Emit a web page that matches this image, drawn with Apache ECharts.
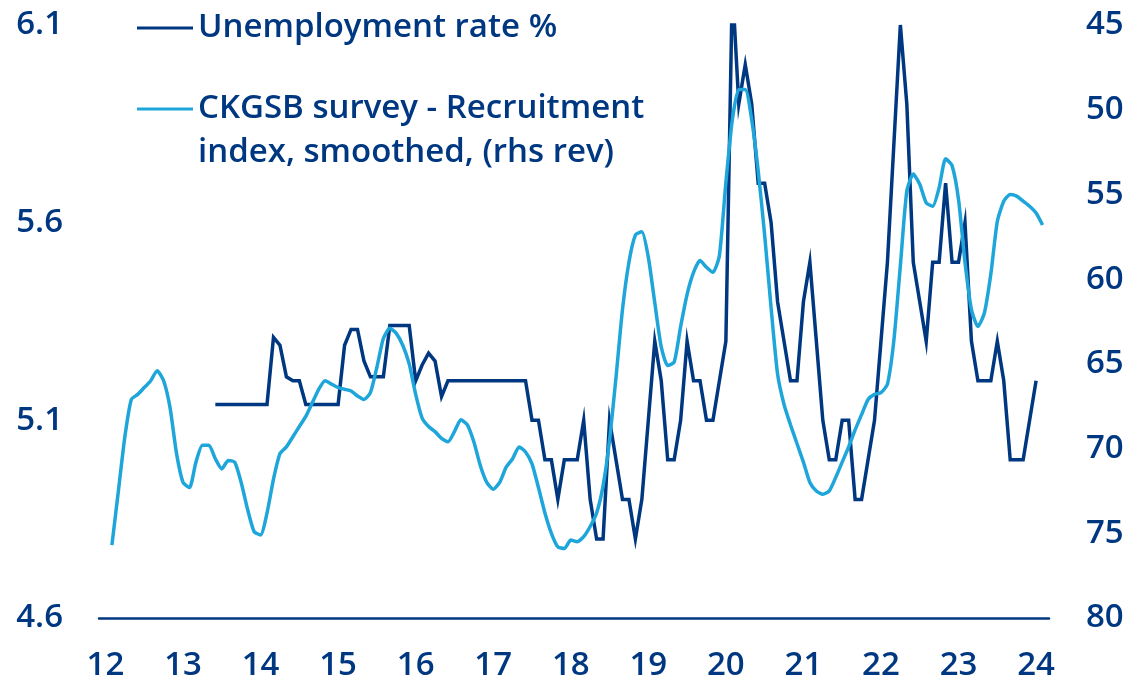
<!DOCTYPE html>
<html>
<head>
<meta charset="utf-8">
<script src="https://cdn.jsdelivr.net/npm/echarts@6/dist/echarts.min.js"></script>
<style>
  html, body { margin: 0; padding: 0; background: #fff; }
  #chart { width: 1132px; height: 682px; }
</style>
</head>
<body>
<div id="chart"></div>
<script>
// monthly categories Dec 2011 .. Mar 2024
var months = [];
for (var y = 2011; y <= 2024; y++) {
	for (var m = 1; m <= 12; m++) {
		if (y === 2011 && m < 12) continue;
		if (y === 2024 && m > 3) break;
		months.push(y + '-' + (m < 10 ? '0' + m : m));
	}
}

// Unemployment rate %, Dec 2011 first, then Jan..Dec per row
var unemployment = [null].concat(
	[null, null, null, null, null, null, null, null, null, null, null, null],
	[null, null, null, null, null, 5.14, 5.14, 5.14, 5.14, 5.14, 5.14, 5.14],
	[5.14, 5.14, 5.31, 5.29, 5.21, 5.2, 5.2, 5.14, 5.14, 5.14, 5.14, 5.14],
	[5.14, 5.29, 5.33, 5.33, 5.25, 5.21, 5.21, 5.21, 5.34, 5.34, 5.34, 5.34],
	[5.2, 5.24, 5.27, 5.25, 5.16, 5.2, 5.2, 5.2, 5.2, 5.2, 5.2, 5.2],
	[5.2, 5.2, 5.2, 5.2, 5.2, 5.2, 5.1, 5.1, 5.0, 5.0, 4.9, 5.0],
	[5.0, 5.0, 5.1, 4.9, 4.8, 4.8, 5.1, 5.0, 4.9, 4.9, 4.8, 4.9],
	[5.1, 5.3, 5.2, 5.0, 5.0, 5.1, 5.3, 5.2, 5.2, 5.1, 5.1, 5.2],
	[5.3, 6.2, 5.9, 6.0, 5.9, 5.7, 5.7, 5.6, 5.4, 5.3, 5.2, 5.2],
	[5.4, 5.5, 5.3, 5.1, 5.0, 5.0, 5.1, 5.1, 4.9, 4.9, 5.0, 5.1],
	[5.3, 5.5, 5.8, 6.1, 5.9, 5.5, 5.4, 5.3, 5.5, 5.5, 5.7, 5.5],
	[5.5, 5.6, 5.3, 5.2, 5.2, 5.2, 5.3, 5.2, 5.0, 5.0, 5.0, 5.1],
	[5.2, null, null]
);

// CKGSB recruitment index, smoothed (right axis, reversed)
var recruitment = [null].concat(
	[null, 75.7, 72.5, 69.3, 67.1, 66.8, 66.4, 66.0, 65.4, 66.0, 67.6, 70.3],
	[72.0, 72.3, 70.8, 69.8, 69.8, 70.6, 71.2, 70.7, 70.8, 72.0, 73.6, 74.9],
	[75.1, 73.8, 71.8, 70.3, 69.9, 69.3, 68.7, 68.1, 67.3, 66.5, 66.0, 66.2],
	[66.4, 66.5, 66.6, 66.9, 67.1, 66.7, 65.2, 63.5, 62.9, 63.2, 63.9, 65.0],
	[66.8, 68.2, 68.7, 69.0, 69.4, 69.6, 69.0, 68.3, 68.6, 69.6, 71.0, 72.0],
	[72.4, 72.0, 71.1, 70.6, 69.9, 70.2, 70.9, 72.3, 73.8, 75.0, 75.8, 75.9],
	[75.4, 75.5, 75.2, 74.6, 73.8, 72.2, 69.5, 65.8, 61.8, 59.0, 57.4, 57.2],
	[58.7, 61.4, 64.0, 65.1, 64.9, 62.8, 60.9, 59.6, 58.9, 59.3, 59.6, 58.6],
	[54.3, 50.6, 48.8, 48.8, 50.6, 53.6, 57.4, 61.7, 65.6, 67.4, 68.6, 69.7],
	[70.8, 72.0, 72.5, 72.7, 72.5, 71.7, 70.8, 69.9, 68.9, 68.0, 67.1, 66.8],
	[66.7, 66.2, 63.6, 59.2, 54.8, 53.8, 54.4, 55.5, 55.7, 54.6, 52.9, 53.3],
	[55.3, 59.0, 61.8, 62.8, 62.0, 59.7, 56.6, 55.4, 55.0, 55.1, 55.4, 55.7],
	[56.1, 56.8, null]
);

var leftTicks = [4.6, 5.1, 5.6, 6.1];

var navy = '#003781';
var sky = '#1ea5d9';
var font = 'Open Sans';
var weight = 600;

var chart = echarts.init(document.getElementById('chart'));
chart.setOption({
	animation: false,
	textStyle: { fontFamily: font, fontWeight: weight },
	grid: { left: 99, right: 83, top: 25, bottom: 64 },
	legend: [{
		left: 132, top: 3,
		data: ['Unemployment rate %'],
		icon: 'rect', itemWidth: 56, itemHeight: 3,
		textStyle: { color: navy, fontSize: 33, fontWeight: weight, lineHeight: 40, fontFamily: font }
	}, {
		left: 132, top: 84,
		data: ['CKGSB survey - Recruitment index, smoothed, (rhs rev)'],
		icon: 'rect', itemWidth: 56, itemHeight: 3,
		formatter: function () { return 'CKGSB survey - Recruitment'; },
		textStyle: { color: navy, fontSize: 33, fontWeight: weight, lineHeight: 40, fontFamily: font }
	}],
	graphic: [{
		type: 'text', left: 198, top: 136,
		style: { text: 'index, smoothed, (rhs rev)', fill: navy, font: weight + ' 33px "Open Sans"' }
	}],
	xAxis: {
		type: 'category',
		data: months,
		boundaryGap: false,
		axisLine: { lineStyle: { color: navy, width: 2.5 } },
		axisTick: { show: false },
		axisLabel: {
			color: navy, fontSize: 33, fontWeight: weight, margin: 31,
			interval: function (i, v) { return v.slice(5) === '01'; },
			formatter: function (v) { return v.slice(2, 4); }
		},
		splitLine: { show: false }
	},
	yAxis: [{
		type: 'value', min: 4.6, max: 6.1,
		axisLine: { show: false }, axisTick: { show: false }, splitLine: { show: false },
		axisLabel: {
			color: navy, fontSize: 33, fontWeight: weight, margin: 36,
			customValues: leftTicks,
			formatter: function (v) { return v.toFixed(1); }
		}
	}, {
		type: 'value', min: 45, max: 80, interval: 5, inverse: true,
		axisLine: { show: false }, axisTick: { show: false }, splitLine: { show: false },
		axisLabel: { color: navy, fontSize: 33, fontWeight: weight, margin: 37 }
	}],
	series: [{
		name: 'Unemployment rate %',
		type: 'line',
		data: unemployment,
		showSymbol: false,
		clip: true,
		color: navy,
		lineStyle: { width: 3.5, color: navy, join: 'miter' }
	}, {
		name: 'CKGSB survey - Recruitment index, smoothed, (rhs rev)',
		type: 'line',
		yAxisIndex: 1,
		data: recruitment,
		showSymbol: false,
		smooth: 0.2,
		color: sky,
		lineStyle: { width: 3.5, color: sky }
	}]
});
</script>
</body>
</html>
